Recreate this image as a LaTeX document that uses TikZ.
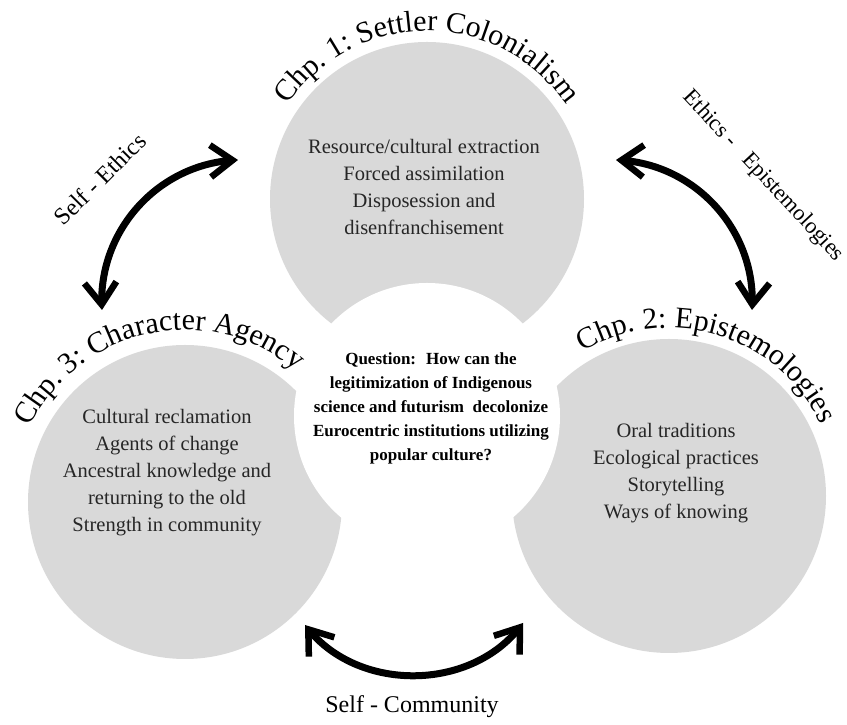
\documentclass[tikz,border=0pt]{standalone}
\usepackage{fontspec}
\setmainfont{Liberation Serif}
\usetikzlibrary{arrows.meta, bending, decorations.text}
\definecolor{discgray}{RGB}{217,217,217}
\newcommand{\titlefont}{\fontsize{30}{30}\selectfont}
\newcommand{\listfont}{\fontsize{20.5}{27}\selectfont}

\begin{document}
\begin{tikzpicture}[x=1pt, y=1pt,
    disc/.style={circle, fill=discgray, inner sep=0pt, minimum size=314pt},
    hole/.style={circle, fill=white, inner sep=0pt, minimum size=266pt},
    topics/.style={align=center, text=black!85, font=\listfont},
    link/.style={font=\fontsize{24}{24}\selectfont},
    twoway/.style={line width=7pt,
        {Straight Barb[length=22pt, width=32pt, line width=6.5pt]}-{Straight Barb[length=22pt, width=32pt, line width=6.5pt]}}]
    \useasboundingbox (0,0) rectangle (847,725);
    \foreach \n/\cx/\cy in {set/427/526, epi/669/229, age/185/223}{
        \node[disc] (\n) at (\cx,\cy) {};
    }
    \node[hole] (q) at (427,309) {};

    \path[decorate, decoration={text along path, text align=center,
            text={|\titlefont|Chp. 1: Settler Colonialism}}]
        (set.center) ++(160:168) arc[start angle=160, end angle=20, radius=168];
    \path[decorate, decoration={text along path, text align=center,
            text={|\titlefont|Chp. 3: Character Agency}}]
        (age.center) ++(172:172) arc[start angle=172, end angle=32, radius=172];
    \path[decorate, decoration={text along path, text align=center,
            text={|\titlefont|Chp. 2: Epistemologies}}]
        (epi.center) ++(137:168) arc[start angle=137, end angle=9, radius=168];

    \node[topics] (set-list) at (424,538) {Resource/cultural extraction\\Forced assimilation\\Disposession and\\disenfranchisement};
    \node[topics] (epi-list) at (676,252) {Oral traditions\\Ecological practices\\Storytelling\\Ways of knowing};
    \node[topics] (age-list) at (167,252) {Cultural reclamation\\Agents of change\\Ancestral knowledge and\\returning to the old\\Strength in community};
    \node[align=center, font=\bfseries\fontsize{17}{24}\selectfont] (question) at (431,317)
        {Question:~ How can the\\legitimization of Indigenous\\science and futurism~ decolonize\\Eurocentric institutions utilizing\\popular culture?};

    \coordinate (se-a) at (102,415);
    \coordinate (se-b) at (238,565);
    \coordinate (ee-a) at (616,565);
    \coordinate (ee-b) at (752,415);
    \coordinate (sc-a) at (305,100);
    \coordinate (sc-b) at (523,102);
    \draw[twoway] (se-a) to[bend left=46] (se-b);
    \draw[twoway] (ee-a) to[bend left=46] (ee-b);
    \draw[twoway] (sc-a) to[bend right=54] (sc-b);

    \node[link, rotate=45] (self-ethics) at (100,546) {Self - Ethics};
    \node[link, rotate=-47, font=\fontsize{22.5}{22.5}\selectfont] (ethics-epi) at (763,549) {Ethics -~~ Epistemologies};
    \node[link] (self-com) at (412,18) {Self - Community};
\end{tikzpicture}
\end{document}
